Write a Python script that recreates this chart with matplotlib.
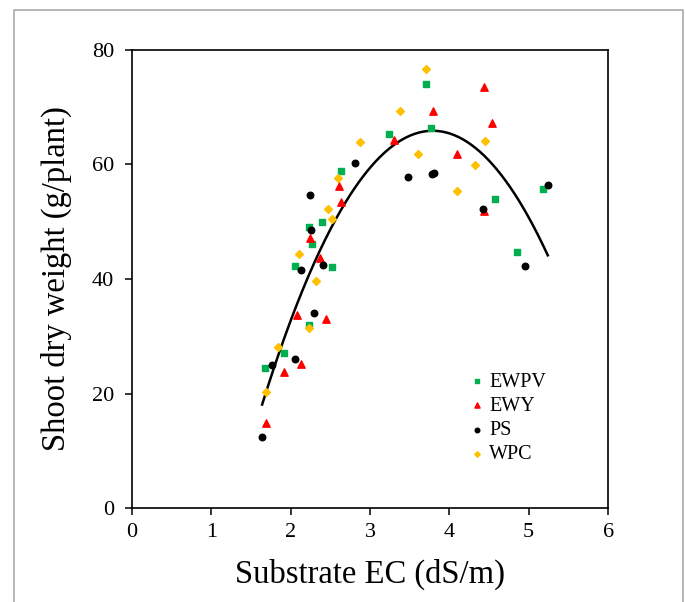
import matplotlib.pyplot as plt
import numpy as np

plt.rcParams['font.family'] = ['Liberation Serif', 'DejaVu Serif']

# substrate EC (dS/m) and shoot dry weight (g/plant) for each treatment
ewpv_x = [1.67, 1.91, 2.23, 2.05, 2.23, 2.27, 2.40, 2.52, 2.64, 3.24, 3.70, 3.77, 4.58, 4.85, 5.18]
ewpv_y = [24.5, 27.0, 31.9, 42.3, 49.0, 46.1, 50.0, 42.1, 58.8, 65.3, 74.1, 66.3, 53.9, 44.8, 55.7]

ewy_x = [1.69, 1.91, 2.08, 2.13, 2.24, 2.37, 2.44, 2.61, 2.63, 3.30, 3.79, 4.10, 4.43, 4.44, 4.54]
ewy_y = [14.8, 23.7, 33.8, 25.2, 47.2, 43.6, 33.1, 56.3, 53.4, 64.3, 69.3, 61.9, 51.9, 73.6, 67.2]

ps_x = [1.64, 1.76, 2.05, 2.13, 2.24, 2.26, 2.29, 2.41, 2.81, 3.48, 3.78, 3.81, 4.42, 4.95, 5.24]
ps_y = [12.5, 24.9, 26.1, 41.6, 54.6, 48.6, 34.1, 42.5, 60.3, 57.9, 58.4, 58.6, 52.2, 42.2, 56.5]

wpc_x = [1.69, 1.84, 2.10, 2.23, 2.32, 2.47, 2.52, 2.59, 2.87, 3.38, 3.60, 3.70, 4.10, 4.32, 4.45]
wpc_y = [20.3, 28.2, 44.3, 31.5, 39.7, 52.2, 50.5, 57.7, 63.9, 69.3, 61.8, 76.6, 55.3, 59.9, 64.1]

fig = plt.figure(figsize=(6.85, 6.02), dpi=100)
# light grey frame round the picture (open at the bottom)
fig.add_artist(plt.Line2D([0.02, 0.02, 0.997, 0.997], [0, 0.983, 0.983, 0],
                          transform=fig.transFigure, color='#aaaaaa', lw=1.2))

ax = fig.add_axes([0.1927, 0.156, 0.695, 0.761])

ax.scatter(ewpv_x, ewpv_y, marker='s', s=20, color='#00b050', label='EWPV', zorder=3)
ax.scatter(ewy_x, ewy_y, marker='^', s=28, color='#ff0000', label='EWY', zorder=3)
ax.scatter(ps_x, ps_y, marker='o', s=22, color='black', label='PS', zorder=3)
ax.scatter(wpc_x, wpc_y, marker='D', s=16, color='#ffc000', label='WPC', zorder=3)

# quadratic trend line through all points
all_x = np.array(ewpv_x + ewy_x + ps_x + wpc_x)
all_y = np.array(ewpv_y + ewy_y + ps_y + wpc_y)
coef = np.polyfit(all_x, all_y, 2)
xx = np.linspace(all_x.min(), all_x.max(), 200)
ax.plot(xx, np.polyval(coef, xx), color='black', lw=1.8, zorder=2)

ax.set_xlim(0, 6)
ax.set_ylim(0, 80)
ax.set_xticks(range(0, 7))
ax.set_yticks(range(0, 81, 20))
ax.tick_params(direction='out', length=5, width=1.1, labelsize=16, pad=6)
ax.tick_params(axis='y', pad=8)
for s in ax.spines.values():
    s.set_linewidth(1.2)

ax.set_xlabel('Substrate EC (dS/m)', fontsize=23.5, labelpad=12)
ax.set_ylabel('Shoot dry weight (g/plant)', fontsize=23.5, labelpad=14)

ax.legend(loc='upper left', bbox_to_anchor=(0.704, 0.296), frameon=False, fontsize=14.5,
          handlelength=1.0, handletextpad=0.1, labelspacing=0.25, markerscale=0.7,
          borderaxespad=0, borderpad=0)

fig.savefig('out.png', dpi=100)
